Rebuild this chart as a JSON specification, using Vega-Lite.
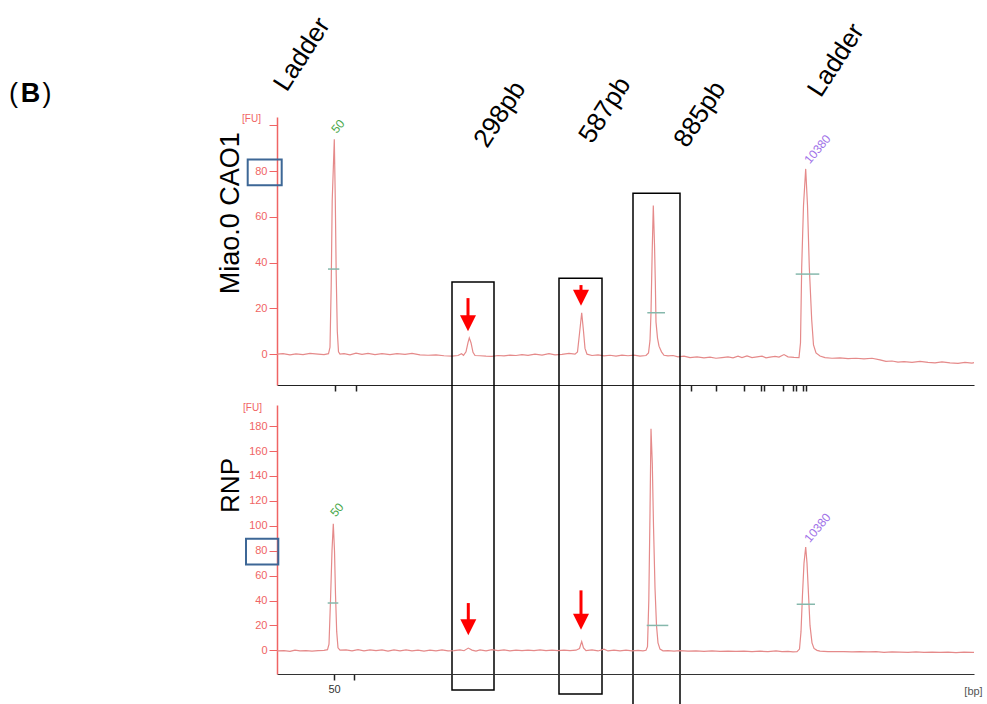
{
  "$schema": "https://vega.github.io/schema/vega-lite/v6.json",
  "background": "white",
  "padding": {"left": 9, "top": 13, "right": 0, "bottom": 0},
  "spacing": 20,
  "bounds": "flush",
  "config": {"view": {"stroke": null}, "font": "Liberation Sans", "axis": {"grid": false, "labelFlush": false, "labelOverlap": false}},
  "datasets": {
    "traceTop": [
      {"t":27.7,"fu":0},{"t":28.3,"fu":0.2},{"t":29.0,"fu":-0.3},{"t":29.6,"fu":0.1},{"t":30.3,"fu":-0.2},{"t":31.0,"fu":0.3},{"t":31.8,"fu":0},{"t":32.4,"fu":-0.2},{"t":32.85,"fu":0.2},{"t":33.0,"fu":3},{"t":33.12,"fu":30},{"t":33.22,"fu":67},{"t":33.43,"fu":94},{"t":33.53,"fu":67},{"t":33.62,"fu":35},{"t":33.73,"fu":10},{"t":33.85,"fu":1},{"t":34.0,"fu":0},{"t":34.4,"fu":0.2},{"t":35.0,"fu":-0.3},{"t":35.6,"fu":0.4},{"t":36.2,"fu":-0.1},{"t":36.8,"fu":0.3},{"t":37.5,"fu":-0.2},{"t":38.2,"fu":0.2},{"t":39.0,"fu":-0.2},{"t":39.7,"fu":0.2},{"t":40.5,"fu":-0.1},{"t":41.2,"fu":0.3},{"t":42.0,"fu":-0.3},{"t":42.8,"fu":-0.5},{"t":43.6,"fu":-0.3},{"t":44.4,"fu":-0.7},{"t":45.2,"fu":-0.9},{"t":45.8,"fu":-0.6},{"t":46.15,"fu":0.2},{"t":46.35,"fu":-0.5},{"t":46.6,"fu":1},{"t":46.8,"fu":5},{"t":46.93,"fu":7.1},{"t":47.1,"fu":5},{"t":47.3,"fu":0.8},{"t":47.5,"fu":-0.6},{"t":48.0,"fu":-0.7},{"t":48.6,"fu":-0.9},{"t":49.2,"fu":-1},{"t":49.8,"fu":-0.6},{"t":50.4,"fu":-0.8},{"t":51.0,"fu":-0.4},{"t":51.6,"fu":-0.6},{"t":52.2,"fu":-0.2},{"t":52.8,"fu":-0.5},{"t":53.5,"fu":0},{"t":54.2,"fu":-0.4},{"t":54.9,"fu":0.2},{"t":55.5,"fu":-0.3},{"t":56.2,"fu":-0.1},{"t":56.9,"fu":0.3},{"t":57.5,"fu":0},{"t":57.75,"fu":1},{"t":57.95,"fu":9},{"t":58.17,"fu":18.1},{"t":58.35,"fu":10},{"t":58.5,"fu":2.5},{"t":58.7,"fu":0},{"t":59.2,"fu":-0.6},{"t":59.8,"fu":-0.3},{"t":60.4,"fu":-0.8},{"t":61.0,"fu":-0.5},{"t":61.6,"fu":-0.9},{"t":62.2,"fu":-0.4},{"t":62.8,"fu":-0.7},{"t":63.4,"fu":-0.4},{"t":64.0,"fu":-0.9},{"t":64.6,"fu":-0.6},{"t":64.85,"fu":0.5},{"t":65.0,"fu":6},{"t":65.1,"fu":18},{"t":65.22,"fu":45},{"t":65.33,"fu":65},{"t":65.45,"fu":48},{"t":65.53,"fu":32},{"t":65.6,"fu":14},{"t":65.75,"fu":7},{"t":65.9,"fu":3.5},{"t":66.15,"fu":1},{"t":66.4,"fu":-0.5},{"t":66.8,"fu":-0.8},{"t":67.3,"fu":-0.6},{"t":67.8,"fu":-1.2},{"t":68.4,"fu":-0.9},{"t":69.0,"fu":-1.5},{"t":69.7,"fu":-1.2},{"t":70.4,"fu":-1.6},{"t":71.0,"fu":-1.3},{"t":71.6,"fu":-1.8},{"t":72.2,"fu":-1.5},{"t":72.8,"fu":-1.2},{"t":73.3,"fu":-1.6},{"t":73.8,"fu":-0.9},{"t":74.2,"fu":-1.5},{"t":74.7,"fu":-0.8},{"t":75.2,"fu":-1.5},{"t":75.7,"fu":-1.2},{"t":76.2,"fu":-0.9},{"t":76.6,"fu":-1.6},{"t":77.0,"fu":-1.3},{"t":77.5,"fu":-1.0},{"t":77.9,"fu":-1.3},{"t":78.4,"fu":-0.2},{"t":78.8,"fu":-1.2},{"t":79.4,"fu":-1.4},{"t":79.9,"fu":-1.5},{"t":80.05,"fu":5},{"t":80.17,"fu":38},{"t":80.35,"fu":65},{"t":80.57,"fu":81},{"t":80.75,"fu":65},{"t":80.93,"fu":38},{"t":81.17,"fu":15},{"t":81.35,"fu":4},{"t":81.6,"fu":0.5},{"t":82.0,"fu":-0.8},{"t":82.5,"fu":-1.5},{"t":83.2,"fu":-1.8},{"t":84.0,"fu":-1.6},{"t":84.8,"fu":-2.0},{"t":85.6,"fu":-1.8},{"t":86.4,"fu":-2.1},{"t":87.2,"fu":-1.8},{"t":88.0,"fu":-2.5},{"t":88.6,"fu":-3.2},{"t":89.2,"fu":-3.0},{"t":89.8,"fu":-3.5},{"t":90.4,"fu":-3.3},{"t":91.2,"fu":-3.6},{"t":92.0,"fu":-3.2},{"t":92.8,"fu":-3.6},{"t":93.5,"fu":-3.8},{"t":94.2,"fu":-3.4},{"t":95.0,"fu":-3.8},{"t":95.8,"fu":-4.0},{"t":96.5,"fu":-3.6},{"t":97.2,"fu":-3.9},{"t":97.4,"fu":-3.7}
    ],
    "traceBottom": [
      {"t":27.7,"fu":-0.5},{"t":28.4,"fu":-0.3},{"t":29.0,"fu":-0.8},{"t":29.5,"fu":0.2},{"t":30.0,"fu":-0.5},{"t":30.6,"fu":-0.2},{"t":31.2,"fu":-0.6},{"t":31.8,"fu":-0.3},{"t":32.4,"fu":0},{"t":32.75,"fu":0.5},{"t":32.9,"fu":5},{"t":33.05,"fu":40},{"t":33.2,"fu":80},{"t":33.33,"fu":101.7},{"t":33.45,"fu":80},{"t":33.55,"fu":45},{"t":33.67,"fu":15},{"t":33.8,"fu":2},{"t":34.0,"fu":0.2},{"t":34.6,"fu":0.3},{"t":35.2,"fu":-0.4},{"t":35.8,"fu":0.5},{"t":36.4,"fu":-0.5},{"t":37.0,"fu":0.4},{"t":37.6,"fu":-0.3},{"t":38.2,"fu":0.3},{"t":38.8,"fu":-0.6},{"t":39.4,"fu":0.3},{"t":40.0,"fu":-0.4},{"t":40.6,"fu":0.4},{"t":41.2,"fu":-0.5},{"t":41.8,"fu":0.2},{"t":42.4,"fu":-0.6},{"t":43.0,"fu":0.2},{"t":43.6,"fu":-0.4},{"t":44.2,"fu":0.3},{"t":44.8,"fu":-0.5},{"t":45.4,"fu":-0.2},{"t":46.0,"fu":0.4},{"t":46.4,"fu":-0.3},{"t":46.83,"fu":1.8},{"t":47.2,"fu":0.2},{"t":47.6,"fu":-0.6},{"t":48.0,"fu":0.3},{"t":48.6,"fu":-0.5},{"t":49.2,"fu":0.5},{"t":49.8,"fu":-0.3},{"t":50.4,"fu":0.3},{"t":51.0,"fu":-0.4},{"t":51.6,"fu":0.2},{"t":52.2,"fu":-0.3},{"t":52.8,"fu":0.2},{"t":53.4,"fu":-0.2},{"t":54.0,"fu":0.3},{"t":54.6,"fu":-0.3},{"t":55.2,"fu":0.1},{"t":55.8,"fu":-0.2},{"t":56.4,"fu":0.2},{"t":57.0,"fu":-0.2},{"t":57.6,"fu":0.1},{"t":57.95,"fu":1.5},{"t":58.17,"fu":7},{"t":58.35,"fu":2},{"t":58.6,"fu":-0.2},{"t":59.2,"fu":0.3},{"t":59.8,"fu":-0.5},{"t":60.4,"fu":1},{"t":60.8,"fu":-0.5},{"t":61.4,"fu":0.2},{"t":62.0,"fu":-0.4},{"t":62.6,"fu":0.1},{"t":63.2,"fu":-0.5},{"t":63.8,"fu":0},{"t":64.3,"fu":-0.4},{"t":64.6,"fu":0},{"t":64.75,"fu":3},{"t":64.88,"fu":40},{"t":65.0,"fu":110},{"t":65.1,"fu":178},{"t":65.23,"fu":150},{"t":65.35,"fu":100},{"t":65.5,"fu":50},{"t":65.65,"fu":20},{"t":65.8,"fu":6},{"t":66.0,"fu":1},{"t":66.3,"fu":-0.4},{"t":66.8,"fu":-0.2},{"t":67.4,"fu":-0.6},{"t":68.0,"fu":-0.3},{"t":68.8,"fu":-0.7},{"t":69.6,"fu":-0.4},{"t":70.4,"fu":-0.8},{"t":71.2,"fu":-0.5},{"t":72.0,"fu":-0.9},{"t":72.8,"fu":-0.6},{"t":73.6,"fu":-0.9},{"t":74.4,"fu":-0.6},{"t":75.2,"fu":-1},{"t":76.0,"fu":-0.7},{"t":76.8,"fu":-1.1},{"t":77.6,"fu":-0.4},{"t":78.2,"fu":-1.0},{"t":78.8,"fu":-0.8},{"t":79.3,"fu":-1.3},{"t":79.7,"fu":-1.1},{"t":79.95,"fu":1},{"t":80.1,"fu":15},{"t":80.25,"fu":45},{"t":80.4,"fu":70},{"t":80.57,"fu":83},{"t":80.7,"fu":70},{"t":80.85,"fu":45},{"t":81.0,"fu":20},{"t":81.2,"fu":6},{"t":81.4,"fu":1.5},{"t":81.7,"fu":0},{"t":82.0,"fu":-0.6},{"t":82.8,"fu":-1.0},{"t":83.6,"fu":-1.1},{"t":84.4,"fu":-1.0},{"t":85.2,"fu":-1.2},{"t":86.0,"fu":-1.0},{"t":86.8,"fu":-1.3},{"t":87.6,"fu":-1.1},{"t":88.4,"fu":-1.6},{"t":89.2,"fu":-1.3},{"t":90.0,"fu":-1.4},{"t":90.8,"fu":-1.7},{"t":91.6,"fu":-1.3},{"t":92.4,"fu":-1.6},{"t":93.2,"fu":-1.4},{"t":94.0,"fu":-1.7},{"t":94.8,"fu":-1.5},{"t":95.6,"fu":-1.8},{"t":96.4,"fu":-1.5},{"t":97.2,"fu":-1.7},{"t":97.4,"fu":-1.6}
    ],
    "halfTop": [{"t":32.8,"t2":33.93,"fu":37.2},{"t":64.73,"t2":66.5,"fu":18.1},{"t":79.57,"t2":81.93,"fu":35}],
    "halfBottom": [{"t":32.77,"t2":33.83,"fu":38},{"t":64.67,"t2":66.83,"fu":20},{"t":79.67,"t2":81.5,"fu":37}],
    "boxes": [
      {"band":"298pb","t":45.2,"t2":49.4,"fu":31.5,"fu2":-146.9},
      {"band":"587pb","t":55.9,"t2":60.2,"fu":33.2,"fu2":-148.6},
      {"band":"885pb","t":63.3,"t2":68.0,"fu":70.4,"fu2":-153.9}
    ],
    "shaftsTop": [{"t":46.8,"fu":24.5,"fu2":16.0},{"t":58.1,"fu":30.2,"fu2":27.0}],
    "headsTop": [{"t":46.8,"fu":13.55},{"t":58.1,"fu":24.7}],
    "shaftsBottom": [{"t":46.83,"fu":37.96,"fu2":23.5},{"t":58.1,"fu":48.15,"fu2":28.5}],
    "headsBottom": [{"t":46.83,"fu":18.46},{"t":58.1,"fu":23.03}],
    "blueTop": [{"t":24.77,"t2":28.17,"fu":85.1,"fu2":73.9}],
    "blueBottom": [{"t":24.6,"t2":27.83,"fu":89.6,"fu2":69.0}],
    "bandLabels": [
      {"text":"Ladder","t":30.2,"fu":131.1},
      {"text":"298pb","t":50.0,"fu":104.9},
      {"text":"587pb","t":60.5,"fu":106.7},
      {"text":"885pb","t":70.0,"fu":104.9},
      {"text":"Ladder","t":83.6,"fu":128.5}
    ],
    "markersTop": [{"text":"50","kind":"lower","t":33.8,"fu":99.6},{"text":"10380","kind":"upper","t":81.75,"fu":89.6}],
    "markersBottom": [{"text":"50","kind":"lower","t":33.7,"fu":112.8},{"text":"10380","kind":"upper","t":81.75,"fu":98.4}],
    "sampleTop": [{"text":"Miao.0 CAO1","t":23.1,"fu":61.6}],
    "sampleBottom": [{"text":"RNP","t":23.1,"fu":132.4}],
    "parens": [{"text":"(","t":1.35,"fu":113.7},{"text":")","t":4.7,"fu":113.7}],
    "letter": [{"text":"B","t":3.05,"fu":113.7}]
  },
  "vconcat": [
    {
      "width": 697,
      "height": 268,
      "encoding": {
        "x": {"field":"t","type":"quantitative","scale":{"domain":[27.7,97.4],"nice":false,"zero":false},
          "axis":{"values":[33.5,35.6,69.1,71.6,74.4,76.1,76.4,78.3,79.3,79.6,80.3,80.6],"labels":false,"title":null,"tickSize":6,"tickColor":"#222","tickWidth":1.5,"domainColor":"#222","domainWidth":1.2}},
        "y": {"field":"fu","type":"quantitative","scale":{"domain":[-13.5,103.7],"nice":false,"zero":false},
          "axis":{"values":[0,20,40,60,80,100],"labelExpr":"datum.value == 100 ? '' : datum.label","tickSize":8,"tickColor":"#f06464","domainColor":"#f06464","domainWidth":1.5,"labelColor":"#f06464","labelFontSize":11,"labelPadding":2,
            "title":"[FU]","titleAngle":0,"titleX":-26,"titleY":1,"titleAlign":"center","titleBaseline":"middle","titleFontSize":10,"titleFontWeight":"normal","titleColor":"#f06464"}}
      },
      "layer": [
        {"data":{"name":"traceTop"},"mark":{"type":"line","color":"#e58a8a","strokeWidth":1.2}},
        {"data":{"name":"halfTop"},"mark":{"type":"rule","color":"#86b8ac","strokeWidth":1.5},"encoding":{"x2":{"field":"t2"}}},
        {"data":{"name":"boxes"},"mark":{"type":"rect","filled":false,"stroke":"black","strokeWidth":1.5},"encoding":{"x2":{"field":"t2"},"y2":{"field":"fu2"}}},
        {"data":{"name":"blueTop"},"mark":{"type":"rect","filled":false,"stroke":"#3d6796","strokeWidth":2},"encoding":{"x2":{"field":"t2"},"y2":{"field":"fu2"}}},
        {"data":{"name":"shaftsTop"},"mark":{"type":"rule","color":"#ff0000","strokeWidth":3},"encoding":{"y2":{"field":"fu2"}}},
        {"data":{"name":"headsTop"},"mark":{"type":"point","shape":"M-1,-1L1,-1L0,1Z","size":256,"filled":true,"color":"#ff0000","opacity":1}},
        {"data":{"name":"markersTop"},"mark":{"type":"text","angle":310,"fontSize":12,"align":"center","baseline":"middle"},
          "encoding":{"text":{"field":"text"},"color":{"field":"kind","type":"nominal","scale":{"domain":["lower","upper"],"range":["#4aa84a","#a071e8"]},"legend":null}}},
        {"data":{"name":"bandLabels"},"mark":{"type":"text","angle":303,"fontSize":26,"color":"black","align":"center","baseline":"middle"},"encoding":{"text":{"field":"text"}}},
        {"data":{"name":"sampleTop"},"mark":{"type":"text","angle":270,"fontSize":27,"color":"black","align":"center","baseline":"middle"},"encoding":{"text":{"field":"text"}}},
        {"data":{"name":"parens"},"mark":{"type":"text","fontSize":27,"color":"black","align":"center","baseline":"middle"},"encoding":{"text":{"field":"text"}}},
        {"data":{"name":"letter"},"mark":{"type":"text","fontSize":27,"fontWeight":"bold","color":"black","align":"center","baseline":"middle"},"encoding":{"text":{"field":"text"}}}
      ]
    },
    {
      "width": 697,
      "height": 269,
      "encoding": {
        "x": {"field":"t","type":"quantitative","scale":{"domain":[27.7,97.4],"nice":false,"zero":false},
          "axis":{"values":[33.4,35.4],"labelExpr":"datum.value < 34 ? '50' : ''","labelFontSize":11,"labelColor":"#333","labelPadding":3,"tickSize":6,"tickColor":"#222","tickWidth":1.5,"domainColor":"#333","domainWidth":1.2,
            "title":"[bp]","titleX":696,"titleY":17,"titleAlign":"center","titleBaseline":"middle","titleFontSize":11,"titleFontWeight":"normal","titleColor":"#555"}},
        "y": {"field":"fu","type":"quantitative","scale":{"domain":[-19,197],"nice":false,"zero":false},
          "axis":{"values":[0,20,40,60,80,100,120,140,160,180],"tickSize":8,"tickColor":"#f06464","domainColor":"#f06464","domainWidth":1.5,"labelColor":"#f06464","labelFontSize":11,"labelPadding":2,
            "title":"[FU]","titleAngle":0,"titleX":-25,"titleY":2,"titleAlign":"center","titleBaseline":"middle","titleFontSize":10,"titleFontWeight":"normal","titleColor":"#f06464"}}
      },
      "layer": [
        {"data":{"name":"traceBottom"},"mark":{"type":"line","color":"#e58a8a","strokeWidth":1.2}},
        {"data":{"name":"halfBottom"},"mark":{"type":"rule","color":"#86b8ac","strokeWidth":1.5},"encoding":{"x2":{"field":"t2"}}},
        {"data":{"name":"blueBottom"},"mark":{"type":"rect","filled":false,"stroke":"#3d6796","strokeWidth":2},"encoding":{"x2":{"field":"t2"},"y2":{"field":"fu2"}}},
        {"data":{"name":"shaftsBottom"},"mark":{"type":"rule","color":"#ff0000","strokeWidth":3},"encoding":{"y2":{"field":"fu2"}}},
        {"data":{"name":"headsBottom"},"mark":{"type":"point","shape":"M-1,-1L1,-1L0,1Z","size":256,"filled":true,"color":"#ff0000","opacity":1}},
        {"data":{"name":"markersBottom"},"mark":{"type":"text","angle":310,"fontSize":12,"align":"center","baseline":"middle"},
          "encoding":{"text":{"field":"text"},"color":{"field":"kind","type":"nominal","scale":{"domain":["lower","upper"],"range":["#4aa84a","#a071e8"]},"legend":null}}},
        {"data":{"name":"sampleBottom"},"mark":{"type":"text","angle":270,"fontSize":26,"color":"black","align":"center","baseline":"middle"},"encoding":{"text":{"field":"text"}}}
      ]
    }
  ]
}
